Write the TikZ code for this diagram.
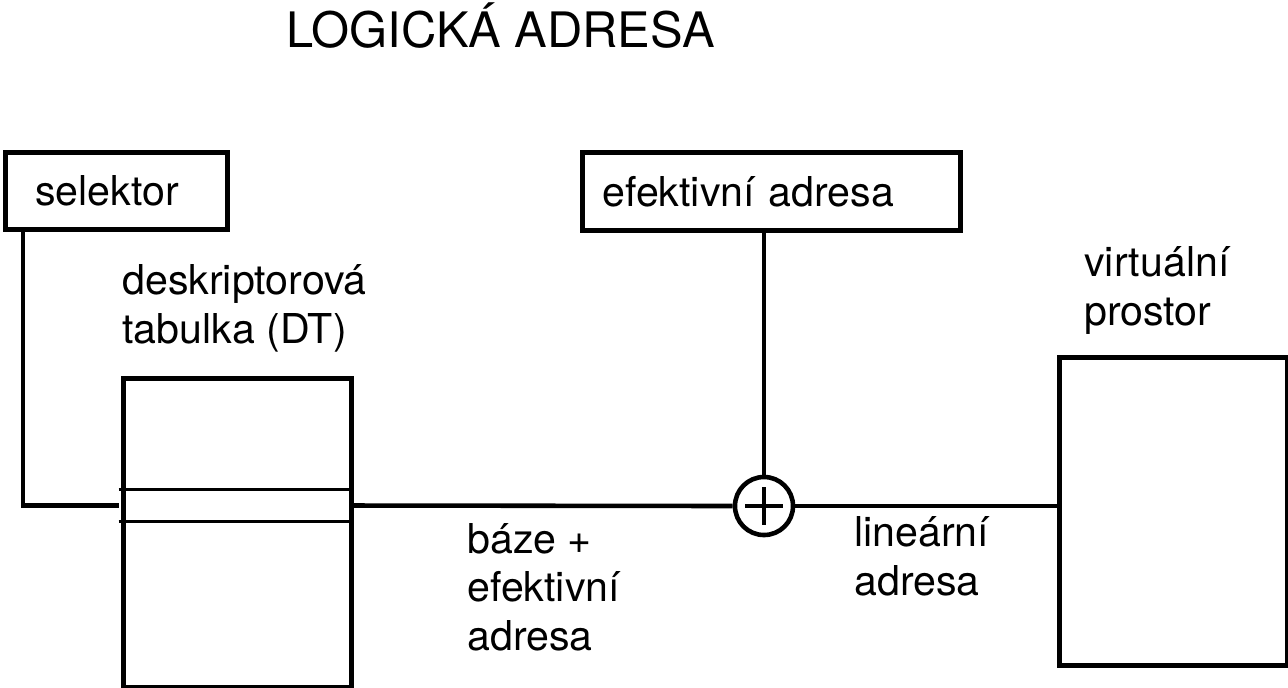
\documentclass[tikz,border=0pt]{standalone}
\usepackage{fontspec}
\setmainfont{TeX Gyre Heros}
\usetikzlibrary{positioning,calc}

\tikzset{
  box/.style={draw, rectangle, inner sep=0pt, align=left},
  lbl/.style={anchor=base west, align=left, inner sep=0pt},
}

\begin{document}
\begin{tikzpicture}[x=0.01cm, y=-0.01cm, font=\fontsize{11.7}{13.66}\selectfont, line width=1.3pt]
% logical -> linear address translation via the descriptor table
\useasboundingbox (0,0) rectangle (1288,687);
\node[anchor=base west, inner sep=0pt, font=\fontsize{13.9}{16}\selectfont] (title) at (284,47) {LOGICKÁ ADRESA};

\node[box, anchor=north west, minimum width=2.22cm, minimum height=0.77cm, text width=1.62cm, inner xsep=0.3cm] (sel) at (3,150) {selektor};
\node[box, anchor=north west, minimum width=3.78cm, minimum height=0.78cm, text width=3.38cm, inner xsep=0.2cm] (ea) at (580,150) {efektivní adresa};

\node[box, anchor=north west, minimum width=2.28cm, minimum height=3.09cm] (dt) at (121,376) {};
\node[box, draw=none, minimum width=2.28cm, minimum height=0.27cm] (entry) at (235,505.5) {};
\draw[line width=1pt] (entry.north west) -- (entry.north east);
\draw[line width=1pt] (entry.south west) -- (entry.south east);
\node[box, anchor=north west, minimum width=2.28cm, minimum height=3.08cm] (virt) at (1057,355) {};

\node[draw, circle, minimum size=0.58cm, inner sep=0pt] (sum) at (764,506) {};
\draw (sum.center) ++(-19,0) -- ++(38,0);
\draw (sum.center) ++(0,-19) -- ++(0,38);

\draw ([xshift=0.2cm]sel.south west) |- (entry.west);
\draw (entry.east) -- (sum.west);
\draw (sum.north) -- (sum.north |- ea.south);
\draw (sum.east) -- (sum.east -| virt.west);

\node[lbl] (dtlbl) at (120,343) {deskriptorová\\tabulka (DT)};
\node[lbl] (sumlbl) at (465,650) {báze +\\efektivní\\adresa};
\node[lbl] (linlbl) at (852,595) {lineární\\adresa};
\node[lbl] (virtlbl) at (1082,325) {virtuální\\prostor};
\end{tikzpicture}
\end{document}
